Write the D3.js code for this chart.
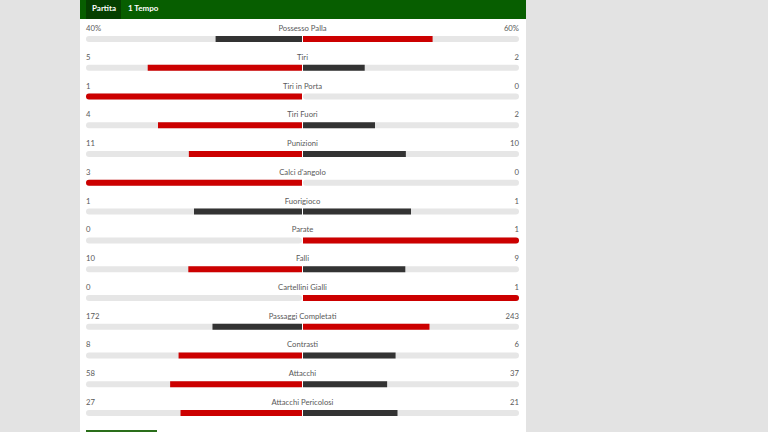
<!DOCTYPE html>
<html>
<head>
<meta charset="utf-8">
<script src="https://cdn.jsdelivr.net/npm/d3@7"></script>
<style>
  body { margin: 0; background: #e3e3e3; }
  svg { display: block; font-family: Lato, "Open Sans", sans-serif; }
</style>
</head>
<body>
<svg id="chart" width="768" height="432"></svg>
<script>
// Statistiche partita
var categories = ["Possesso Palla", "Tiri", "Tiri in Porta", "Tiri Fuori", "Punizioni",
    "Calci d'angolo", "Fuorigioco", "Parate", "Falli", "Cartellini Gialli",
    "Passaggi Completati", "Contrasti", "Attacchi", "Attacchi Pericolosi"];
var homeValues = [40, 5, 1, 4, 11, 3, 1, 0, 10, 0, 172, 8, 58, 27];
var awayValues = [60, 2, 0, 2, 10, 0, 1, 1, 9, 1, 243, 6, 37, 21];
var homeLabels = ["40%", "5", "1", "4", "11", "3", "1", "0", "10", "0", "172", "8", "58", "27"];
var awayLabels = ["60%", "2", "0", "2", "10", "0", "1", "1", "9", "1", "243", "6", "37", "21"];
var tabs = ["Partita", "1 Tempo"];

var svg = d3.select("#chart");
var red = "#cc0000", dark = "#333333", track = "#e6e6e6";

// Pannello bianco
svg.append("rect")
    .attr("x", 80).attr("y", 0)
    .attr("width", 446).attr("height", 432)
    .attr("fill", "#ffffff");

// Intestazione verde
svg.append("rect")
    .attr("x", 80).attr("y", 0)
    .attr("width", 446).attr("height", 19)
    .attr("fill", "#075e00");
svg.append("rect")
    .attr("x", 86).attr("y", 0)
    .attr("width", 35).attr("height", 19)
    .attr("fill", "#053f00");
svg.selectAll("text.tab")
    .data(tabs)
    .enter().append("text")
    .attr("class", "tab")
    .attr("x", function(d, i) { return i == 0 ? 92 : 128; })
    .attr("y", 8)
    .attr("dy", "0.35em")
    .attr("fill", "#ffffff")
    .attr("font-size", "8px")
    .attr("font-weight", "bold")
    .text(function(d) { return d; });

var rows = d3.range(categories.length);
var y = d3.scalePoint().domain(rows).range([39, 413]);
var xLeft = d3.scaleLinear().domain([0, 1]).range([302, 86]);
var xRight = d3.scaleLinear().domain([0, 1]).range([303, 519]);
var barH = 6;

var g = svg.selectAll("g.row")
    .data(rows)
    .enter().append("g")
    .attr("class", "row")
    .attr("transform", function(i) { return "translate(0," + y(i) + ")"; });

// Binari grigi
g.append("rect")
    .attr("x", xLeft(1)).attr("y", -barH / 2)
    .attr("width", xLeft(0) - xLeft(1)).attr("height", barH)
    .attr("rx", 3).attr("fill", track);
g.append("rect")
    .attr("x", xRight(0)).attr("y", -barH / 2)
    .attr("width", xRight(1) - xRight(0)).attr("height", barH)
    .attr("rx", 3).attr("fill", track);

function share(a, b) { return a + b == 0 ? 0 : a / (a + b); }

// Barre casa (da centro a sinistra)
g.append("path")
    .attr("fill", function(i) { return homeValues[i] > awayValues[i] ? red : dark; })
    .attr("d", function(i) {
        var s = share(homeValues[i], awayValues[i]);
        if (s == 0) return null;
        var x0 = xLeft(s), x1 = xLeft(0), r = s > 0.98 ? 3 : 0;
        return "M" + (x0 + r) + "," + (-barH / 2) + "H" + x1 + "V" + (barH / 2) + "H" + (x0 + r) +
            (r ? "A3,3 0 0 1 " + x0 + "," + 0 + "A3,3 0 0 1 " + (x0 + r) + "," + (-barH / 2) : "H" + x0 + "V" + (-barH / 2)) + "Z";
    });

// Barre ospiti (da centro a destra)
g.append("path")
    .attr("fill", function(i) { return awayValues[i] > homeValues[i] ? red : dark; })
    .attr("d", function(i) {
        var s = share(awayValues[i], homeValues[i]);
        if (s == 0) return null;
        var x0 = xRight(0), x1 = xRight(s), r = s > 0.98 ? 3 : 0;
        return "M" + x0 + "," + (-barH / 2) + "H" + (x1 - r) +
            (r ? "A3,3 0 0 1 " + x1 + "," + 0 + "A3,3 0 0 1 " + (x1 - r) + "," + (barH / 2) : "H" + x1 + "V" + (barH / 2)) +
            "H" + x0 + "Z";
    });

// Etichette
g.append("text")
    .attr("x", (xLeft(0) + xRight(0)) / 2)
    .attr("y", -8)
    .attr("text-anchor", "middle")
    .attr("fill", "#5a5a5a")
    .attr("font-size", "7.7px")
    .text(function(i) { return categories[i]; });
g.append("text")
    .attr("x", 86)
    .attr("y", -8)
    .attr("fill", "#5a5a5a")
    .attr("font-size", "7.7px")
    .text(function(i) { return homeLabels[i]; });
g.append("text")
    .attr("x", 519)
    .attr("y", -8)
    .attr("text-anchor", "end")
    .attr("fill", "#5a5a5a")
    .attr("font-size", "7.7px")
    .text(function(i) { return awayLabels[i]; });

// Bordo pulsante in fondo
svg.append("rect")
    .attr("x", 86).attr("y", 430)
    .attr("width", 71).attr("height", 2)
    .attr("fill", "#2a6e1a");
</script>
</body>
</html>
